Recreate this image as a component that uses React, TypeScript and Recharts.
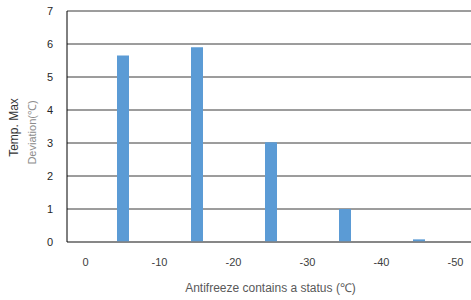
import React from 'react';
import { BarChart, Bar, XAxis, YAxis, CartesianGrid, Label } from 'recharts';

const categories = ['0', '-5', '-10', '-15', '-20', '-25', '-30', '-35', '-40', '-45', '-50'];
const deviations: (number | null)[] = [null, 5.65, null, 5.9, null, 3.02, null, 1.0, null, 0.08, null];
const yTicks = [0, 1, 2, 3, 4, 5, 6, 7];

const data = categories.map((c, i) => ({ name: c, value: deviations[i] }));

const FONT = '"Liberation Sans", Arial, sans-serif';

const YLabel = (props: any) => {
  const vb = props.viewBox || {};
  const cy = vb.y + vb.height / 2;
  return (
    <g>
      <text
        x={14}
        y={cy + 1}
        transform={`rotate(-90, 14, ${cy + 1})`}
        textAnchor="middle"
        dominantBaseline="central"
        fontSize={12}
        fill="#333333"
        fontFamily={FONT}
      >
        Temp. Max
      </text>
      <text
        x={32}
        y={cy + 6}
        transform={`rotate(-90, 32, ${cy + 6})`}
        textAnchor="middle"
        dominantBaseline="central"
        fontSize={11}
        fill="#8c8c8c"
        fontFamily={FONT}
      >
        Deviation(℃)
      </text>
    </g>
  );
};

export default function App() {
  return (
    <div style={{ position: 'absolute', left: 0, top: 0, width: 471, height: 300, background: '#fff' }}>
      <BarChart
        width={471}
        height={300}
        data={data}
        margin={{ top: 11, right: -3, bottom: 0, left: 0 }}
        barCategoryGap={0}
      >
        <CartesianGrid horizontal vertical={false} stroke="#3a3a3a" strokeWidth={1} />
        <XAxis
          dataKey="name"
          interval={1}
          height={58}
          tickLine={false}
          axisLine={{ stroke: '#808080', strokeWidth: 1.5 }}
          tick={{ fontSize: 11, fill: '#404040', fontFamily: FONT }}
          tickMargin={10}
        >
          <Label
            value="Antifreeze  contains a status (℃)"
            position="insideBottom"
            offset={8}
            style={{ fontSize: 12, fill: '#595959', fontFamily: FONT }}
          />
        </XAxis>
        <YAxis
          type="number"
          domain={[0, 7]}
          ticks={yTicks}
          interval={0}
          width={67}
          tickLine={false}
          axisLine={{ stroke: '#000000', strokeWidth: 1 }}
          tick={{ fontSize: 11, fill: '#262626', fontFamily: FONT }}
          tickMargin={8}
        >
          <Label content={<YLabel />} />
        </YAxis>
        <Bar dataKey="value" fill="#5b9bd5" barSize={12} isAnimationActive={false} />
      </BarChart>
    </div>
  );
}
